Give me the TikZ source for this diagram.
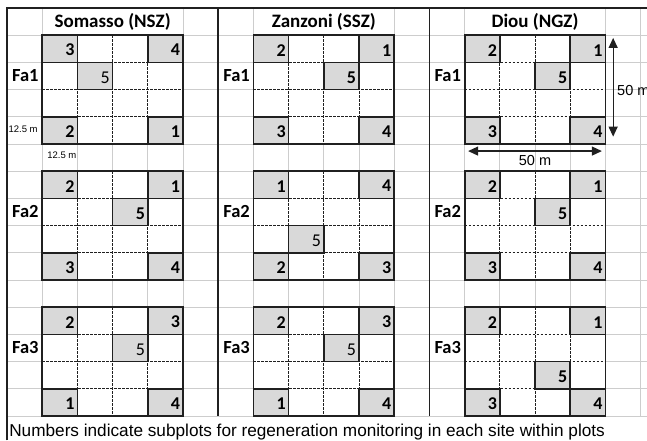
\documentclass[tikz,border=0pt]{standalone}
\usepackage{fontspec}
\setmainfont{Carlito}
\newfontfamily\arialfont{Liberation Sans}
\usetikzlibrary{arrows.meta}
\definecolor{gridgray}{RGB}{205,205,205}
\definecolor{cellgray}{RGB}{217,217,217}
\definecolor{ink}{RGB}{32,32,32}

\begin{document}
\begin{tikzpicture}[x=35.2pt, y=-27.2pt,
  grid/.style={draw=gridgray, line width=0.9pt},
  rule/.style={draw=ink, line width=1.8pt},
  sub/.style={draw=ink, line width=0.7pt, dash pattern=on 2.5pt off 1.5pt},
  cellbox/.style={fill=cellgray, draw=ink, line width=1.5pt},
  num/.style={font=\fontsize{18}{18}\selectfont\bfseries, anchor=east, inner sep=2pt},
  head/.style={font=\fontsize{19}{19}\selectfont\bfseries, inner sep=1pt},
  fa/.style={font=\fontsize{18.5}{18.5}\selectfont\bfseries, anchor=east, inner sep=2pt},
  small/.style={font=\arialfont\fontsize{9.5}{9.5}\selectfont, anchor=west, inner sep=0pt},
  dimtext/.style={font=\arialfont\fontsize{14.5}{14.5}\selectfont, inner sep=0pt},
  note/.style={font=\arialfont\fontsize{17.2}{17.2}\selectfont, anchor=base west, inner sep=0pt},
  dim/.style={{Triangle[length=10pt,width=9pt]}-{Triangle[length=10pt,width=9pt]}, draw=ink, line width=1.2pt}]

\clip (-0.199,-0.294) rectangle (18.182,15.883);

% sheet grid
\foreach \c in {1,...,18} \draw[grid] (\c,0) -- (\c,15);
\foreach \r in {1,...,15} \draw[grid] (0,\r) -- (18.2,\r);

% site headers
\foreach \p/\site in {0/Somasso (NSZ),1/Zanzoni (SSZ),2/Diou (NGZ)} {
  \fill[white] (6*\p+1.02,0.05) rectangle (6*\p+4.98,0.96);
  \node[head] (site\p) at (6*\p+3,0.5) {\site};
}

% outer and site rules
\draw[rule] (0,15.9) -- (0,0) -- (18.2,0);
\foreach \x in {6,12} \draw[rule] (\x,0) -- (\x,15);

% plots: site/group/corner numbers/position of 5
\foreach \p/\g/\tl/\tr/\bl/\br/\fc/\fr/\fw in {
    0/0/3/4/2/1/2/2/\mdseries, 1/0/2/1/3/4/3/2/\bfseries, 2/0/2/1/3/4/3/2/\bfseries,
    0/1/2/1/3/4/3/2/\bfseries, 1/1/1/4/2/3/2/3/\mdseries, 2/1/2/1/3/4/3/2/\bfseries,
    0/2/2/3/1/4/3/2/\mdseries, 1/2/2/3/1/4/3/2/\mdseries, 2/2/2/1/3/4/3/3/\bfseries} {
  \pgfmathsetmacro\cx{6*\p+1}
  \pgfmathsetmacro\ry{5*\g+1}
  \pgfmathtruncatemacro\fn{\g+1}
  \fill[white] (\cx,\ry) rectangle ++(4,4);
  \foreach \k in {1,2,3} {
    \draw[sub] (\cx+\k,\ry) -- ++(0,4);
    \draw[sub] (\cx,\ry+\k) -- ++(4,0);
  }
  \draw[cellbox] (\cx,\ry) rectangle ++(1,1);
  \draw[cellbox] (\cx+3,\ry) rectangle ++(1,1);
  \draw[cellbox] (\cx,\ry+3) rectangle ++(1,1);
  \draw[cellbox] (\cx+3,\ry+3) rectangle ++(1,1);
  \draw[cellbox] (\cx+\fc-1,\ry+\fr-1) rectangle ++(1,1);
  \draw[rule] (\cx,\ry) rectangle ++(4,4);
  \node[num] (n\p\g-tl) at (\cx+0.98,\ry+0.55) {\tl};
  \node[num] (n\p\g-tr) at (\cx+3.98,\ry+0.55) {\tr};
  \node[num] (n\p\g-bl) at (\cx+0.98,\ry+3.55) {\bl};
  \node[num] (n\p\g-br) at (\cx+3.98,\ry+3.55) {\br};
  \node[num] (n\p\g-c) at (\cx+\fc-0.02,\ry+\fr-0.45) {\fw 5};
  \node[fa] (fa\p\g) at (\cx-0.04,\ry+1.5) {Fa\fn};
}

% scale notes
\node[small] (side) at (0.04,4.45) {12.5 m};
\node[small] (base) at (1.14,5.4) {12.5 m};
\coordinate (wl) at (13.1,5.26);
\coordinate (wr) at (16.9,5.26);
\coordinate (ht) at (17.22,1.1);
\coordinate (hb) at (17.22,4.73);
\draw[dim] (wl) -- (wr);
\draw[dim] (ht) -- (hb);
\node[dimtext] (wlab) at (15,5.62) {50 m};
\node[dimtext, anchor=west] (hlab) at (17.33,3.05) {50 m};

\node[note] (note) at (0.06,15.77) {Numbers indicate subplots for regeneration monitoring in each site within plots};
\end{tikzpicture}
\end{document}
